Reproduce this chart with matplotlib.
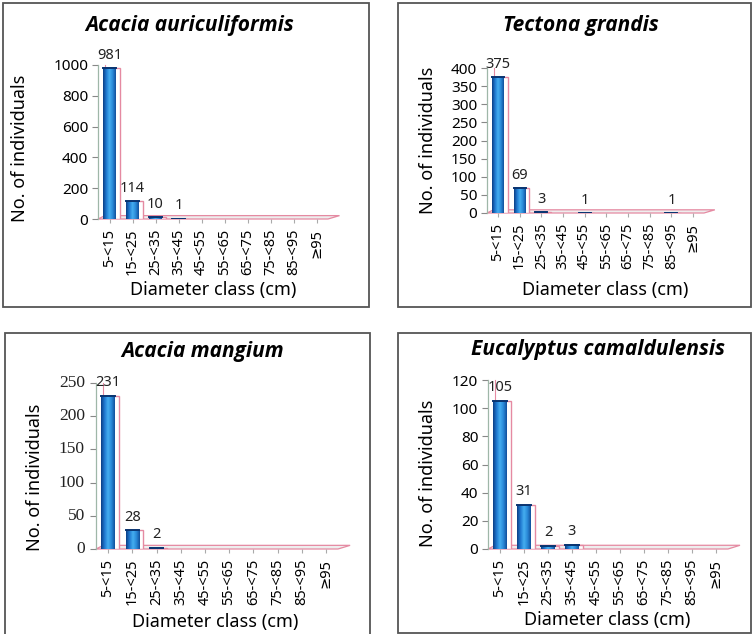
import numpy as np
import matplotlib
matplotlib.use("Agg")
import matplotlib.pyplot as plt
from matplotlib.patches import Rectangle, Polygon
from matplotlib.colors import LinearSegmentedColormap
from matplotlib.transforms import blended_transform_factory, offset_copy

# diameter classes shared by every species
classes = ["5-<15", "15-<25", "25-<35", "35-<45", "45-<55",
           "55-<65", "65-<75", "75-<85", "85-<95", "≥95"]

# number of individuals per diameter class
auriculiformis = [981, 114, 10, 1, 0, 0, 0, 0, 0, 0]
tectona = [375, 69, 3, 0, 1, 0, 0, 0, 1, 0]
mangium = [231, 28, 2, 0, 0, 0, 0, 0, 0, 0]
eucalyptus = [105, 31, 2, 3, 0, 0, 0, 0, 0, 0]

titles = ["Acacia auriculiformis", "Tectona grandis",
          "Acacia mangium", "Eucalyptus camaldulensis"]

W, H = 754, 634
plt.rcParams["font.family"] = ["Noto Sans", "DejaVu Sans"]

fig = plt.figure(figsize=(W / 100, H / 100), dpi=100)

# cylinder-like shading for the bars
bar_cmap = LinearSegmentedColormap.from_list(
    "cyl", ["#0b3f86", "#1f78cf", "#45aef0", "#2a8ad8", "#12509c"])
grad = np.linspace(0, 1, 64).reshape(1, -1)


def fx(px):
    return px / W


def fy(py):
    return 1 - py / H


def panel(vals, title, box, axbox, ymax, ystep, title_xy, ylab_xy, xlab_xy,
          serif_ticks=False):
    # outer frame
    x0, y0, x1, y1 = box
    fig.add_artist(Rectangle((fx(x0), fy(y1)), fx(x1 - x0), (y1 - y0) / H,
                             transform=fig.transFigure, fill=False,
                             edgecolor="#555555", lw=1.3))
    fig.text(fx(title_xy[0]), fy(title_xy[1]), title, ha="center", va="center",
             fontsize=15, fontweight="bold", style="italic",
             family=["Open Sans", "DejaVu Sans"])
    fig.text(fx(ylab_xy[0]), fy(ylab_xy[1]), "No. of individuals", rotation=90,
             ha="center", va="center", fontsize=13)
    fig.text(fx(xlab_xy[0]), fy(xlab_xy[1]), "Diameter class (cm)",
             ha="center", va="center", fontsize=13)

    l, r, b, t = axbox
    ax = fig.add_axes([fx(l), fy(b), fx(r - l), (b - t) / H])
    ax.patch.set_alpha(0)
    x = np.arange(len(classes))
    w = 0.55

    # 3D floor under the bars
    ax.add_patch(Polygon([(0, 0), (1.0, 0), (1.05, 0.022), (0.03, 0.022)],
                         closed=True, transform=ax.transAxes, clip_on=False,
                         facecolor="#eeeeee", edgecolor="#e58aa2", lw=0.9))
    # pink back wall line
    ax.plot([0.03, 0.03], [0.022, 1.0], transform=ax.transAxes,
            color="#e58aa2", lw=0.8, clip_on=False)

    for xi, v in zip(x, vals):
        if v <= 0:
            continue
        ax.add_patch(Rectangle((xi - w / 2 + 0.17, 0), w, v, facecolor="white",
                               edgecolor="#e58aa2", lw=1.0, zorder=2))
        ax.imshow(grad, cmap=bar_cmap, aspect="auto", zorder=3,
                  extent=(xi - w / 2, xi + w / 2, 0, v))
        ax.plot([xi - w / 2, xi + w / 2], [v, v], color="#0a3470", lw=1.4,
                zorder=4)
        ax.text(xi, v + ymax * 0.035, str(v), ha="center", va="bottom",
                fontsize=10.5, color="#222222", zorder=5)

    ax.set_xlim(-0.5, len(classes) - 0.5)
    ax.set_ylim(0, ymax)
    ax.tick_params(axis="y", length=4, color="#888888", pad=3)
    ax.tick_params(axis="x", length=3, color="#aaaaaa", pad=4)
    yt = np.arange(0, ymax + 1, ystep)
    ax.set_yticks(yt)
    if serif_ticks:
        # this panel uses a serif face for its value axis
        ax.set_yticklabels([])
        trans = offset_copy(blended_transform_factory(ax.transAxes, ax.transData),
                            fig=fig, x=-8, y=0, units="points")
        for v in yt:
            ax.text(0, v, str(v), transform=trans, ha="right", va="center",
                    fontsize=12.5, family=["Liberation Serif", "DejaVu Serif"],
                    color="#222222")
    else:
        ax.set_yticklabels([str(v) for v in yt], fontsize=11)
    ax.set_xticks(x)
    ax.set_xticklabels(classes, rotation=90, fontsize=10.5)
    for s in ["top", "right", "bottom"]:
        ax.spines[s].set_visible(False)
    ax.spines["left"].set_color("#9fb7a8")
    ax.spines["left"].set_linestyle((0, (2, 1)))
    ax.spines["left"].set_linewidth(0.9)
    return ax


panel(auriculiformis, titles[0], (3, 3, 369, 307), (98, 328, 219, 65),
      1000, 200, (190, 25), (20, 148), (213, 290))
panel(tectona, titles[1], (398, 3, 751, 307), (487, 704, 213, 68),
      400, 50, (581, 25), (428, 140), (605, 290))
panel(mangium, titles[2], (5, 333, 370, 645), (96, 338, 549, 383),
      250, 50, (203, 352), (35, 477), (215, 622), serif_ticks=True)
panel(eucalyptus, titles[3], (398, 333, 751, 633), (488, 728, 549, 380),
      120, 20, (598, 350), (428, 473), (607, 620))

fig.savefig("out.png", dpi=100, facecolor="white")
